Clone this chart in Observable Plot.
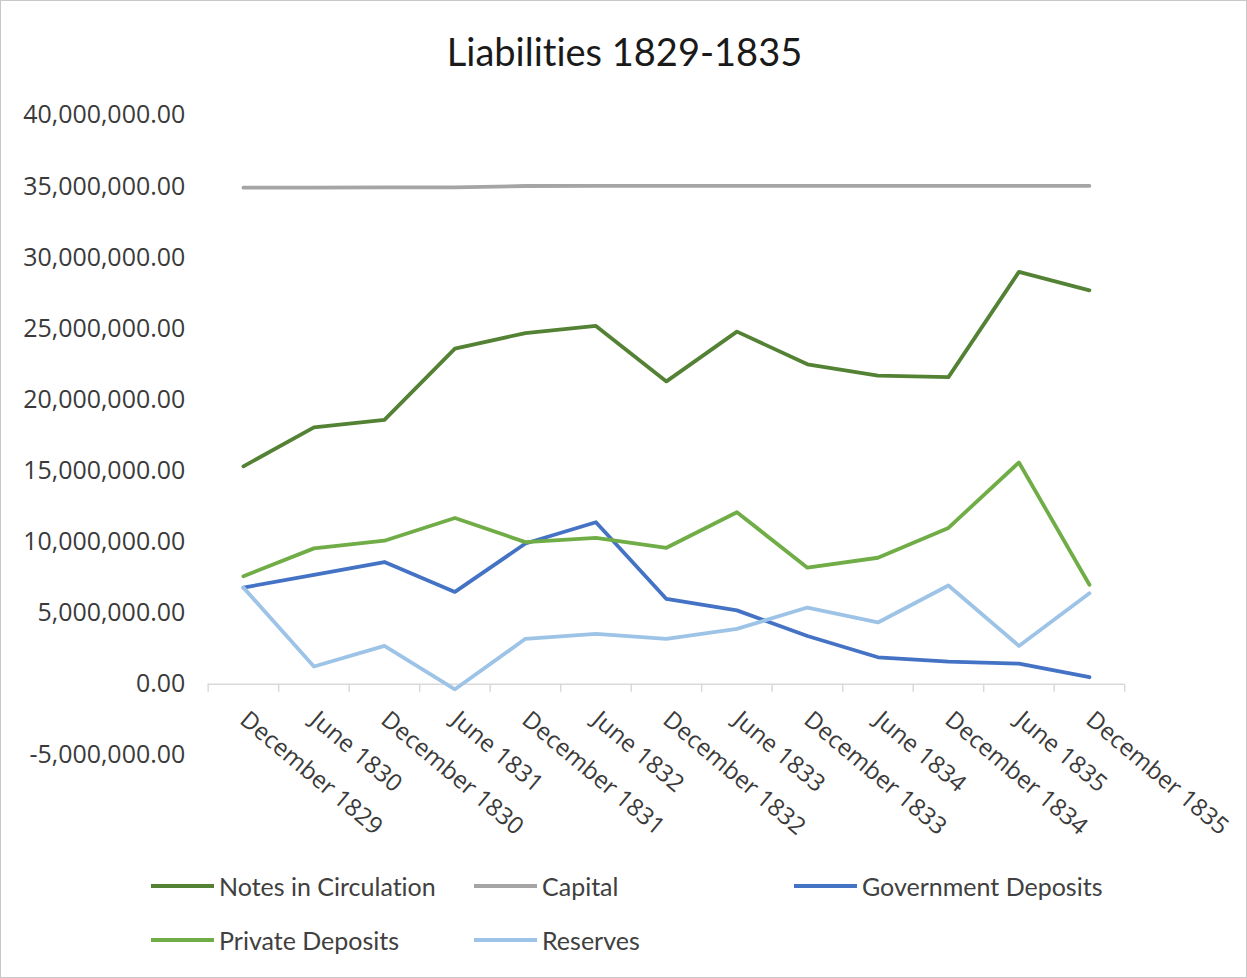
<!DOCTYPE html>
<html>
<head>
<meta charset="utf-8">
<script src="https://cdn.jsdelivr.net/npm/d3@7"></script>
<script src="https://cdn.jsdelivr.net/npm/@observablehq/plot@0.6"></script>
<style>
  html, body { margin: 0; padding: 0; background: #fff; }
  #frame { position: relative; width: 1247px; height: 978px; box-sizing: border-box; border: 1px solid #c8c8c8; overflow: hidden; background: #fff; }
  #title { position: absolute; left: 0; width: 1247px; top: 31px; text-align: center; font-family: Lato, "Open Sans", sans-serif; font-size: 38px; line-height: 38px; color: #1a1a1a; font-variant-ligatures: none; }
  #chart { position: absolute; left: 0; top: 95px; }
  #legend { position: absolute; left: 150px; top: 865px; display: grid; grid-template-columns: 323px 320px auto; grid-auto-rows: 54px; font-family: Lato, "Open Sans", sans-serif; font-size: 25px; color: #404040; font-variant-ligatures: none; }
  .item { display: flex; align-items: center; height: 40px; }
  .swatch { width: 63px; height: 3.5px; margin-right: 5px; }
</style>
</head>
<body>
<div id="frame">
  <div id="title">Liabilities 1829-1835</div>
  <div id="chart"></div>
  <div id="legend"></div>
</div>
<script>
const categories = ["December 1829","June 1830","December 1830","June 1831","December 1831","June 1832","December 1832","June 1833","December 1833","June 1834","December 1834","June 1835","December 1835"];

const seriesNames = ["Notes in Circulation","Capital","Government Deposits","Private Deposits","Reserves"];
const seriesColors = ["#548235","#a5a5a5","#4472c4","#70ad47","#9dc3e6"];

const notesInCirculation = [15.33e6, 18.07e6, 18.6e6, 23.6e6, 24.7e6, 25.2e6, 21.3e6, 24.8e6, 22.5e6, 21.7e6, 21.6e6, 29.0e6, 27.7e6];
const capital = [34.92e6, 34.93e6, 34.94e6, 34.95e6, 35.04e6, 35.05e6, 35.05e6, 35.05e6, 35.05e6, 35.05e6, 35.05e6, 35.05e6, 35.05e6];
const governmentDeposits = [6.8e6, 7.7e6, 8.6e6, 6.5e6, 9.9e6, 11.4e6, 6.0e6, 5.2e6, 3.4e6, 1.9e6, 1.6e6, 1.45e6, 0.5e6];
const privateDeposits = [7.6e6, 9.56e6, 10.1e6, 11.7e6, 10.0e6, 10.3e6, 9.6e6, 12.1e6, 8.2e6, 8.9e6, 11.0e6, 15.6e6, 7.0e6];
const reserves = [6.8e6, 1.25e6, 2.7e6, -0.35e6, 3.2e6, 3.55e6, 3.2e6, 3.9e6, 5.4e6, 4.35e6, 6.95e6, 2.7e6, 6.4e6];

const yTicks = [-5e6, 0, 5e6, 10e6, 15e6, 20e6, 25e6, 30e6, 35e6, 40e6];

const seriesValues = [notesInCirculation, capital, governmentDeposits, privateDeposits, reserves];
const rows = [];
seriesNames.forEach((name, s) => {
  seriesValues[s].forEach((v, i) => rows.push({series: name, i, value: v}));
});
const idx = categories.map((c, i) => i);
const bounds = d3.range(-0.5, categories.length, 1);

const fmt0 = d3.format(",.2f");
const fmt = v => fmt0(v).replace("\u2212", "-");

const plot = Plot.plot({
  width: 1247,
  height: 760,
  marginLeft: 207,
  marginRight: 122,
  marginTop: 19,
  marginBottom: 100,
  style: {fontFamily: "'Open Sans', sans-serif", fontSize: "24px", color: "#404040", background: "transparent"},
  x: {type: "linear", domain: [-0.5, categories.length - 0.5], axis: null},
  y: {domain: [-5e6, 40e6], axis: null},
  color: {domain: seriesNames, range: seriesColors},
  marks: [
    Plot.axisY({ticks: yTicks, tickFormat: fmt, tickSize: 0, tickPadding: 23, fontSize: 25, fill: "#3a3a3a", label: null, fontFamily: "'Open Sans', sans-serif"}),
    Plot.ruleY([0], {stroke: "#d9d9d9", strokeWidth: 1.5}),
    Plot.ruleX(bounds, {x: d => d, y1: d => 0, y2: d => 0, insetBottom: -8, stroke: "#d9d9d9", strokeWidth: 1.5}),
    Plot.line(rows, {x: "i", y: "value", z: "series", stroke: "series", strokeWidth: 3.8, strokeLinejoin: "round", strokeLinecap: "round"}),
    Plot.text(idx, {x: d => d, y: d => 0, text: d => categories[d], rotate: 40, textAnchor: "start", lineAnchor: "top", dx: 6, dy: 25, fontSize: 24, fill: "#3a3a3a", fontFamily: "'Open Sans', sans-serif"})
  ]
});
document.getElementById("chart").appendChild(plot);

const legend = document.getElementById("legend");
seriesNames.forEach((name, s) => {
  const item = document.createElement("div");
  item.className = "item";
  const sw = document.createElement("div");
  sw.className = "swatch";
  sw.style.background = seriesColors[s];
  const label = document.createElement("span");
  label.textContent = name;
  item.appendChild(sw);
  item.appendChild(label);
  legend.appendChild(item);
});
</script>
</body>
</html>
